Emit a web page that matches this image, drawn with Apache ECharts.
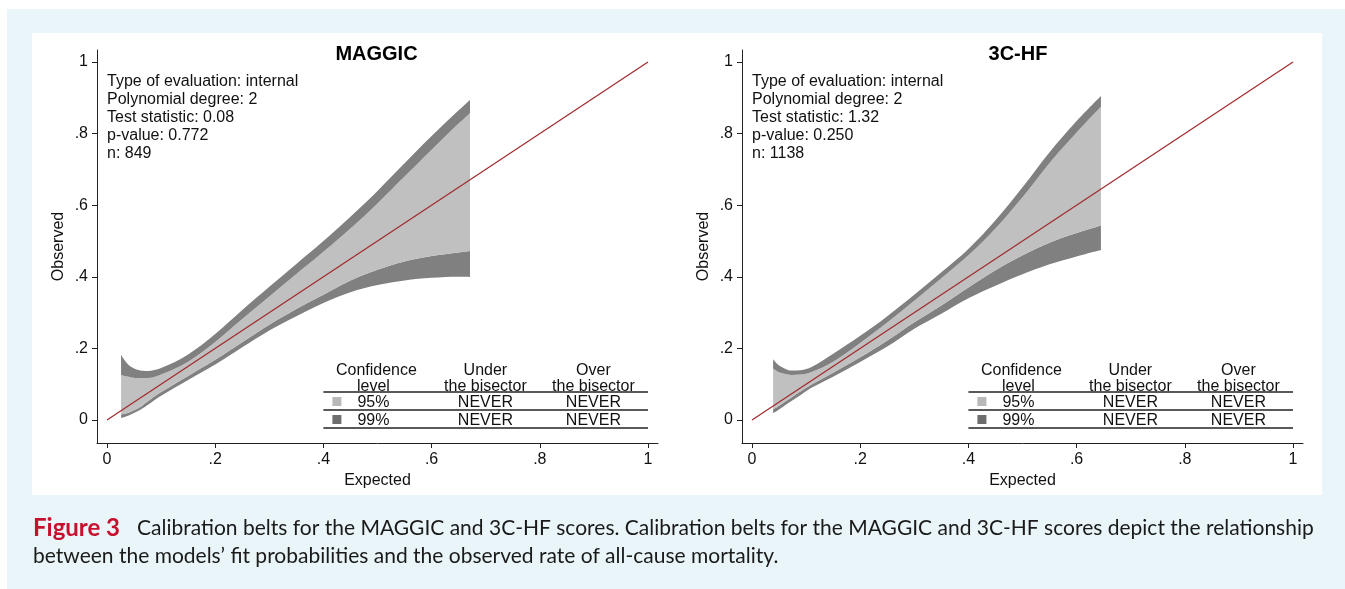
<!DOCTYPE html>
<html><head><meta charset="utf-8">
<script src="https://cdn.jsdelivr.net/npm/echarts@6/dist/echarts.min.js"></script>
<style>
html,body{margin:0;padding:0;background:#fff;overflow:hidden;}
#bg{position:absolute;left:7px;top:9px;width:1338px;height:580px;background:#e9f5f8;}
#panel{position:absolute;left:32px;top:33px;width:1290px;height:462px;background:#fff;}
#chart{position:absolute;left:0;top:0;width:1345px;height:589px;}
</style></head><body>
<div id="bg"></div><div id="panel"></div><div id="chart"></div>
<script>
// ---- data ----
const xTicks = [0, 0.2, 0.4, 0.6, 0.8, 1];
const yTicks = [0, 0.2, 0.4, 0.6, 0.8, 1];
const diagonal = [[0, 0], [1, 1]];

const maggicX   = [0.026, 0.035, 0.045, 0.06, 0.075, 0.1, 0.15, 0.2, 0.25, 0.3, 0.35, 0.4, 0.45, 0.5, 0.55, 0.6, 0.65, 0.671];
const maggicU99 = [0.182, 0.162, 0.148, 0.139, 0.137, 0.145, 0.183, 0.24, 0.307, 0.372, 0.436, 0.50, 0.568, 0.64, 0.717, 0.793, 0.865, 0.894];
const maggicU95 = [0.126, 0.122, 0.119, 0.117, 0.117, 0.127, 0.163, 0.218, 0.282, 0.345, 0.408, 0.47, 0.535, 0.605, 0.68, 0.755, 0.828, 0.857];
const maggicL95 = [0.015, 0.018, 0.024, 0.035, 0.052, 0.078, 0.123, 0.168, 0.217, 0.266, 0.31, 0.35, 0.39, 0.42, 0.443, 0.458, 0.468, 0.472];
const maggicL99 = [0.006, 0.01, 0.016, 0.027, 0.042, 0.068, 0.112, 0.155, 0.203, 0.25, 0.29, 0.327, 0.357, 0.377, 0.39, 0.397, 0.4, 0.399];
const maggicInfo = ['Type of evaluation: internal', 'Polynomial degree: 2', 'Test statistic: 0.08', 'p-value: 0.772', 'n: 849'];

const hfX   = [0.039, 0.048, 0.06, 0.073, 0.09, 0.11, 0.15, 0.2, 0.25, 0.3, 0.35, 0.4, 0.45, 0.5, 0.55, 0.6, 0.645];
const hfU99 = [0.17, 0.155, 0.144, 0.138, 0.139, 0.148, 0.185, 0.235, 0.29, 0.35, 0.413, 0.478, 0.558, 0.65, 0.748, 0.835, 0.905];
const hfU95 = [0.144, 0.135, 0.129, 0.126, 0.127, 0.134, 0.163, 0.215, 0.272, 0.333, 0.396, 0.46, 0.535, 0.622, 0.718, 0.803, 0.875];
const hfL95 = [0.03, 0.038, 0.05, 0.063, 0.08, 0.099, 0.132, 0.175, 0.222, 0.273, 0.32, 0.37, 0.418, 0.46, 0.495, 0.522, 0.543];
const hfL99 = [0.019, 0.027, 0.04, 0.053, 0.07, 0.09, 0.121, 0.162, 0.205, 0.255, 0.297, 0.34, 0.375, 0.407, 0.435, 0.457, 0.475];
const hfInfo = ['Type of evaluation: internal', 'Polynomial degree: 2', 'Test statistic: 1.32', 'p-value: 0.250', 'n: 1138'];

const tableHeader = [['Confidence', 'level'], ['Under', 'the bisector'], ['Over', 'the bisector']];
const tableRows = [['95%', 'NEVER', 'NEVER'], ['99%', 'NEVER', 'NEVER']];

const captionLabel = 'Figure 3';
const captionLine1 = 'Calibration belts for the MAGGIC and 3C-HF scores. Calibration belts for the MAGGIC and 3C-HF scores depict the relationship';
const captionLine2 = 'between the models\u2019 fit probabilities and the observed rate of all-cause mortality.';

// ---- styles ----
const FONT = '"Liberation Sans", Arial, Helvetica, sans-serif';
const LIGHT = '#c0c0c0';
const DARK = '#808080';
const RED = '#a0292d';
const AXIS = '#222';

const panels = [
  { name: 'MAGGIC', x: maggicX, u99: maggicU99, u95: maggicU95, l95: maggicL95, l99: maggicL99, info: maggicInfo, left: 97, titleX: 376.5 },
  { name: '3C-HF', x: hfX, u99: hfU99, u95: hfU95, l95: hfL95, l99: hfL99, info: hfInfo, left: 742, titleX: 1018 }
];

const UNITX = 541, UNITY = 358, GRID_TOP = 50, GRID_H = 393, GRID_W = 561;
const xMin = -10 / UNITX, xMax = xMin + GRID_W / UNITX;
const yMin = -23 / UNITY, yMax = yMin + GRID_H / UNITY;

function fmt(v) {
  if (v === 0) return '0';
  if (v === 1) return '1';
  return String(+v.toFixed(2)).replace(/^0/, '');
}

const grid = [], xAxis = [], yAxis = [], series = [], graphic = [];

panels.forEach((p, i) => {
  grid.push({ left: p.left, top: GRID_TOP, width: GRID_W, height: GRID_H });
  xAxis.push({
    type: 'value', gridIndex: i, min: xMin, max: xMax, z: 10,
    name: 'Expected', nameLocation: 'middle', nameGap: 24,
    nameTextStyle: { fontFamily: FONT, fontSize: 16, color: '#111' },
    axisLine: { show: true, onZero: false, lineStyle: { color: AXIS, width: 1 } },
    axisTick: { show: true, length: 5, customValues: xTicks, lineStyle: { color: AXIS } },
    axisLabel: { customValues: xTicks, formatter: fmt, margin: 9, fontFamily: FONT, fontSize: 16, color: '#111' },
    splitLine: { show: false }
  });
  yAxis.push({
    type: 'value', gridIndex: i, min: yMin, max: yMax, z: 10,
    name: 'Observed', nameLocation: 'middle', nameGap: 30, nameRotate: 90,
    nameTextStyle: { fontFamily: FONT, fontSize: 16, color: '#111' },
    axisLine: { show: true, onZero: false, lineStyle: { color: AXIS, width: 1 } },
    axisTick: { show: true, length: 5, customValues: yTicks, lineStyle: { color: AXIS } },
    axisLabel: { customValues: yTicks, formatter: fmt, margin: 9, fontFamily: FONT, fontSize: 16, color: '#111' },
    splitLine: { show: false }
  });
  // Stacked belt: base (99% lower), then 99% lower band, 95% band, 99% upper band.
  // Data rows are [observed-increment, expected] so the stack applies to the observed value.
  const stack = 'belt' + i;
  const bands = [
    { lo: null, hi: p.l99, color: null },
    { lo: p.l99, hi: p.l95, color: DARK },
    { lo: p.l95, hi: p.u95, color: LIGHT },
    { lo: p.u95, hi: p.u99, color: DARK }
  ];
  bands.forEach(b => {
    const s = {
      type: 'line', xAxisIndex: i, yAxisIndex: i, stack: stack, smooth: 0.35, z: 2,
      symbol: 'none', silent: true, lineStyle: { width: 0, opacity: 0 },
      dimensions: ['obs', 'exp'], encode: { x: 1, y: 0 },
      data: p.x.map((x, j) => [b.lo ? +(b.hi[j] - b.lo[j]).toFixed(4) : b.hi[j], x])
    };
    if (b.color) s.areaStyle = { color: b.color, opacity: 1 };
    series.push(s);
  });
  series.push({
    type: 'line', xAxisIndex: i, yAxisIndex: i, data: diagonal, symbol: 'none', silent: true, z: 5,
    lineStyle: { color: RED, width: 1.2 }
  });

  const ox = p.left + 10; // pixel of x=0
  const px = v => ox + v * UNITX;
  // title
  graphic.push({ type: 'text', z: 100, x: p.titleX, y: 54,
    style: { text: p.name, fontFamily: FONT, fontSize: 20, fontWeight: 'bold', fill: '#000', textAlign: 'center', textVerticalAlign: 'middle' } });
  // info
  p.info.forEach((t, k) => {
    graphic.push({ type: 'text', z: 100, x: ox, y: 82 + k * 18,
      style: { text: t, fontFamily: FONT, fontSize: 16, fill: '#111', textAlign: 'left', textVerticalAlign: 'middle' } });
  });
  // table
  const colX = [px(0.4) + 53, px(0.4) + 162, px(0.4) + 270];
  const lineY = [392, 410, 428];
  lineY.forEach(y => {
    graphic.push({ type: 'line', z: 100, shape: { x1: px(0.4), y1: y, x2: px(1), y2: y }, style: { stroke: '#222', lineWidth: 1.3 } });
  });
  tableHeader.forEach((h, c) => {
    graphic.push({ type: 'text', z: 100, x: colX[c], y: 371,
      style: { text: h[0], fontFamily: FONT, fontSize: 16, fill: '#111', textAlign: 'center', textVerticalAlign: 'middle' } });
    graphic.push({ type: 'text', z: 100, x: colX[c] - (c === 0 ? 3 : 0), y: 387,
      style: { text: h[1], fontFamily: FONT, fontSize: 16, fill: '#111', textAlign: 'center', textVerticalAlign: 'middle' } });
  });
  tableRows.forEach((r, k) => {
    const cy = 403 + k * 18;
    graphic.push({ type: 'rect', z: 100, shape: { x: px(0.4) + 9, y: cy - 6, width: 9, height: 9 },
      style: { fill: k === 0 ? '#b8b8b8' : '#6e6e6e' } });
    r.forEach((t, c) => {
      graphic.push({ type: 'text', z: 100, x: colX[c] - (c === 0 ? 3 : 0), y: cy,
        style: { text: t, fontFamily: FONT, fontSize: 16, fill: '#111', textAlign: 'center', textVerticalAlign: 'middle' } });
    });
  });
});

// caption
const CAP_FONT = 'Lato, "Open Sans", sans-serif';
graphic.push({ type: 'text', z: 100, x: 33, y: 528,
  style: { text: captionLabel, fontFamily: CAP_FONT, fontSize: 24, fontWeight: 'bold', fill: '#c8102e', textAlign: 'left', textVerticalAlign: 'middle' } });
graphic.push({ type: 'text', z: 100, x: 137, y: 528,
  style: { text: captionLine1, fontFamily: CAP_FONT, fontSize: 21, fill: '#1a1a1a', textAlign: 'left', textVerticalAlign: 'middle' } });
graphic.push({ type: 'text', z: 100, x: 33, y: 556,
  style: { text: captionLine2, fontFamily: CAP_FONT, fontSize: 21, fill: '#1a1a1a', textAlign: 'left', textVerticalAlign: 'middle' } });

const chart = echarts.init(document.getElementById('chart'), null, { renderer: 'canvas' });
chart.setOption({
  animation: false,
  backgroundColor: 'transparent',
  grid, xAxis, yAxis, series, graphic
});
</script></body></html>
